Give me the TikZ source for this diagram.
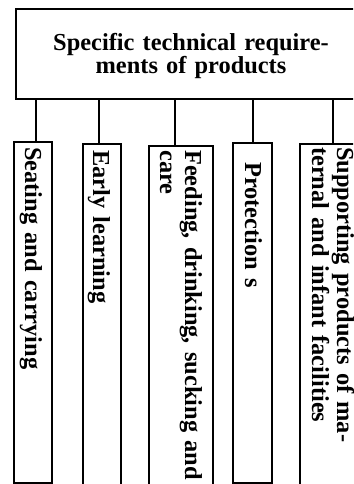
\documentclass[tikz,border=0pt]{standalone}
\usepackage{fontspec}
\setmainfont{Liberation Serif}
\begin{document}
\begin{tikzpicture}[x=1pt,y=1pt,
  box/.style={draw, line width=1.8pt, inner sep=0pt, fill=white},
  conn/.style={line width=1.8pt},
  lbl/.style={font=\bfseries\fontsize{24.4}{25}\selectfont, inner sep=0pt, rotate=-90, anchor=base west, align=left, text width=335pt},
  ttl/.style={font=\bfseries\fontsize{24.4}{23}\selectfont, inner sep=0pt, anchor=base, align=center, text width=320pt}]
\useasboundingbox (0,0) rectangle (353,-484);
\clip (0,0) rectangle (353,-484);
\fill[white] (0,0) rectangle (353,-484);
% top box
\node[box, minimum width=356pt, minimum height=90pt] (top) at (194,-54) {};
\node[ttl] (title) at (191,-51) {Specific technical require-\\ments of products};
% child boxes
\node[box, minimum width=38pt, minimum height=341pt] (b1) at (33,-312.5) {};
\node[box, minimum width=38pt, minimum height=346pt] (b2) at (102,-317) {};
\node[box, minimum width=64pt, minimum height=344pt] (b3) at (181,-318) {};
\node[box, minimum width=39pt, minimum height=340pt] (b4) at (252.5,-313) {};
\node[box, minimum width=60pt, minimum height=346pt] (b5) at (330,-317) {};
% connectors
\draw[conn] ([xshift=3pt]b1.north) -- ([xshift=3pt]b1.north |- top.south);
\draw[conn] ([xshift=-3pt]b2.north) -- ([xshift=-3pt]b2.north |- top.south);
\draw[conn] ([xshift=-6pt]b3.north) -- ([xshift=-6pt]b3.north |- top.south);
\draw[conn] ([xshift=0.5pt]b4.north) -- ([xshift=0.5pt]b4.north |- top.south);
\draw[conn] ([xshift=3pt]b5.north) -- ([xshift=3pt]b5.north |- top.south);
% labels
\node[lbl] (l1) at (25,-147) {Seating and carrying};
\node[lbl] (l2) at (93,-150) {Early learning};
\node[lbl] (l3) at (185,-150) {Feeding, drinking, sucking and\\care};
\node[lbl] (l4) at (245,-162) {Protection s};
\node[lbl] (l5) at (337,-147) {Supporting products of ma-\\ternal and infant facilities};
\end{tikzpicture}
\end{document}
